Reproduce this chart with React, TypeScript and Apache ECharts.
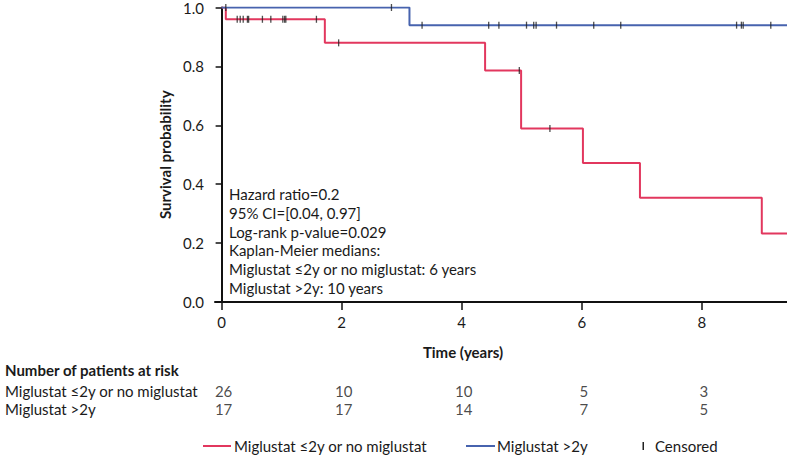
import React, { useEffect, useRef } from "react";
import * as echarts from "echarts";

// ---- data ----
const xTickValues = [0, 2, 4, 6, 8];
const groupNames = ["Miglustat ≤2y or no miglustat", "Miglustat >2y"];
const redTimes = [0, 0.07, 1.72, 4.39, 4.99, 6.02, 6.97, 9.0];
const redSurv = [1, 0.96, 0.88, 0.786, 0.589, 0.472, 0.354, 0.233];
const blueTimes = [0, 3.13];
const blueSurv = [1, 0.94];
const redCensored = [0.26, 0.31, 0.36, 0.43, 0.45, 0.68, 0.82, 1.02, 1.05, 1.07, 1.58, 1.95, 4.96, 5.47];
const blueCensored = [0.07, 2.83, 3.34, 4.45, 4.62, 5.08, 5.2, 5.24, 5.58, 6.2, 6.65, 8.58, 8.66, 8.69, 9.15];
const riskTimes = [0, 2, 4, 6, 8];
const riskRed = [26, 10, 10, 5, 3];
const riskBlue = [17, 17, 14, 7, 5];
const annotationLines = [
  "Hazard ratio=0.2",
  "95% CI=[0.04, 0.97]",
  "Log-rank p-value=0.029",
  "Kaplan-Meier medians:",
  "Miglustat ≤2y or no miglustat: 6 years",
  "Miglustat >2y: 10 years",
];

const X_MIN = -0.11;
const X_MAX = 9.42;
const RED = "#e2375e";
const BLUE = "#4763ae";
const FONT = "Lato, 'Open Sans', sans-serif";
const TXT = "#1a1a1a";
const FS = 15;

function stepData(times: number[], surv: number[]) {
  const d = times.map((t, i) => [t, surv[i]]);
  d.push([X_MAX, surv[surv.length - 1]]);
  return d;
}
function survAt(times: number[], surv: number[], t: number) {
  let v = surv[0];
  for (let i = 0; i < times.length; i++) if (times[i] <= t) v = surv[i];
  return v;
}

export default function App() {
  const ref = useRef<HTMLDivElement>(null);
  useEffect(() => {
    if (!ref.current) return;
    const chart = echarts.init(ref.current, undefined, { renderer: "svg" });
    const censorData = [
      ...redCensored.map((t) => [t, survAt(redTimes, redSurv, t)]),
      ...blueCensored.map((t) => [t, survAt(blueTimes, blueSurv, t)]),
    ];
    const riskData = [
      ...riskTimes.map((t, i) => [t, groupNames[0], riskRed[i]]),
      ...riskTimes.map((t, i) => [t, groupNames[1], riskBlue[i]]),
    ];
    chart.setOption({
      animation: false,
      textStyle: { fontFamily: FONT },
      grid: [
        { left: 215, right: 0, top: 7, bottom: 158, containLabel: false },
        { left: 215, right: 0, top: 382, height: 36, containLabel: false },
      ],
      xAxis: [
        {
          type: "value",
          gridIndex: 0,
          min: X_MIN,
          max: X_MAX,
          splitLine: { show: false },
          axisLine: { show: true, lineStyle: { color: "#111", width: 2 } },
          axisTick: { show: true, length: 8, customValues: xTickValues, lineStyle: { color: "#111", width: 1.5 } },
          axisLabel: { customValues: xTickValues, color: TXT, fontSize: FS, fontFamily: FONT, margin: 12 },
        },
        {
          type: "value",
          gridIndex: 1,
          min: X_MIN,
          max: X_MAX,
          show: false,
        },
      ],
      yAxis: [
        {
          type: "value",
          gridIndex: 0,
          min: 0,
          max: 1,
          interval: 0.2,
          name: "Survival probability",
          nameLocation: "middle",
          nameGap: 32,
          nameTextStyle: { fontWeight: "bold", fontSize: FS, color: TXT, fontFamily: FONT },
          splitLine: { show: false },
          axisLine: { show: true, lineStyle: { color: "#111", width: 2 } },
          axisTick: { show: true, length: 6, lineStyle: { color: "#111", width: 1.5 } },
          axisLabel: { color: TXT, fontSize: FS, fontFamily: FONT, margin: 11, formatter: (v: number) => v.toFixed(1) },
        },
        {
          type: "category",
          gridIndex: 1,
          data: groupNames,
          inverse: true,
          axisLine: { show: false },
          axisTick: { show: false },
          splitLine: { show: false },
          axisLabel: { interval: 0, align: "left", margin: 210, color: TXT, fontSize: FS, fontFamily: FONT },
        },
      ],
      series: [
        {
          name: groupNames[0],
          type: "line",
          step: "end",
          xAxisIndex: 0,
          yAxisIndex: 0,
          data: stepData(redTimes, redSurv),
          symbol: "none",
          lineStyle: { color: RED, width: 2 },
          z: 3,
        },
        {
          name: groupNames[1],
          type: "line",
          step: "end",
          xAxisIndex: 0,
          yAxisIndex: 0,
          data: stepData(blueTimes, blueSurv),
          symbol: "none",
          lineStyle: { color: BLUE, width: 2 },
          z: 3,
        },
        {
          name: "Censored",
          type: "scatter",
          xAxisIndex: 0,
          yAxisIndex: 0,
          data: censorData,
          symbol: "rect",
          symbolSize: [1.3, 7],
          itemStyle: { color: "#222" },
          z: 5,
        },
        {
          name: "Number at risk",
          type: "scatter",
          xAxisIndex: 1,
          yAxisIndex: 1,
          data: riskData,
          symbolSize: 1,
          itemStyle: { color: "rgba(0,0,0,0)" },
          label: {
            show: true,
            position: "inside",
            offset: [2, 0],
            formatter: (p: any) => String(p.value[2]),
            color: TXT,
            fontSize: FS,
            fontFamily: FONT,
          },
        },
      ],
      graphic: [
        {
          type: "text",
          x: 463,
          y: 352,
          style: { text: "Time (years)", fontWeight: "bold", fontSize: FS, fill: TXT, fontFamily: FONT, align: "center", verticalAlign: "middle" },
        },
        {
          type: "text",
          x: 5,
          y: 370,
          style: { text: "Number of patients at risk", fontWeight: "bold", fontSize: FS, fill: TXT, fontFamily: FONT, verticalAlign: "middle" },
        },
        ...annotationLines.map((t, i) => ({
          type: "text",
          x: 229,
          y: 194 + i * 18.8,
          style: { text: t, fontSize: FS, fill: TXT, fontFamily: FONT, verticalAlign: "middle" },
        })),
        { type: "line", shape: { x1: 203, y1: 446, x2: 231, y2: 446 }, style: { stroke: RED, lineWidth: 2 } },
        { type: "text", x: 234, y: 446, style: { text: groupNames[0], fontSize: FS, fill: TXT, fontFamily: FONT, verticalAlign: "middle" } },
        { type: "line", shape: { x1: 466, y1: 446, x2: 495, y2: 446 }, style: { stroke: BLUE, lineWidth: 2 } },
        { type: "text", x: 497, y: 446, style: { text: groupNames[1], fontSize: FS, fill: TXT, fontFamily: FONT, verticalAlign: "middle" } },
        { type: "rect", shape: { x: 642.5, y: 442, width: 1.5, height: 8 }, style: { fill: "#222" } },
        { type: "text", x: 655, y: 446, style: { text: "Censored", fontSize: FS, fill: TXT, fontFamily: FONT, verticalAlign: "middle" } },
      ],
    });
    return () => chart.dispose();
  }, []);
  return <div ref={ref} style={{ width: 787, height: 460, position: "absolute", left: 0, top: 0 }} />;
}
